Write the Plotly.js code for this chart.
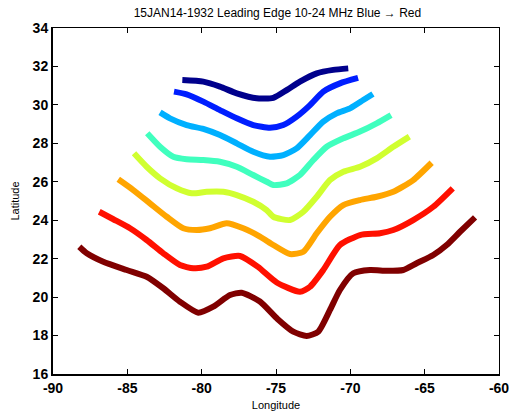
<!DOCTYPE html>
<html>
<head>
<meta charset="utf-8">
<script src="https://cdn.plot.ly/plotly-3.0.1.min.js"></script>
<style>html,body{margin:0;padding:0;background:#fff;}#chart{width:509px;height:416px;}</style>
</head>
<body>
<div id="chart"></div>
<script>
// Leading edge contours, 10-24 MHz (Blue -> Red)
const lon1 = [-81.30,-79.89,-78.77,-77.64,-76.30,-75.18,-74.28,-73.39,-72.26,-71.15,-70.14];
const lat1 = [31.29,31.21,30.95,30.60,30.34,30.37,30.77,31.21,31.64,31.82,31.90];

const lon2 = [-81.86,-81.01,-79.89,-78.77,-77.64,-76.53,-75.40,-74.51,-73.61,-72.71,-71.82,-70.70,-69.48];
const lat2 = [30.69,30.55,30.17,29.73,29.30,28.95,28.81,28.95,29.39,29.99,30.69,31.12,31.40];

const lon3 = [-82.80,-82.13,-81.01,-79.89,-78.77,-77.64,-76.53,-75.40,-74.51,-73.61,-72.71,-71.82,-70.92,-70.02,-69.13,-68.48];
const lat3 = [29.61,29.30,28.95,28.75,28.43,28.00,27.56,27.30,27.39,27.74,28.43,29.13,29.56,29.82,30.25,30.57];

const lon4 = [-83.66,-82.80,-81.91,-81.01,-79.89,-78.77,-77.64,-76.53,-75.63,-75.18,-74.28,-73.39,-72.49,-71.59,-70.47,-69.35,-68.23,-67.26];
const lat4 = [28.52,27.82,27.30,27.17,27.13,27.04,26.78,26.35,26.00,25.83,25.92,26.35,27.13,27.82,28.26,28.61,29.04,29.47];

const lon5 = [-84.55,-83.70,-82.80,-81.68,-80.67,-79.66,-78.54,-77.64,-76.53,-75.63,-75.18,-74.06,-73.16,-72.26,-71.37,-70.47,-69.35,-68.23,-67.11,-66.03];
const lat5 = [27.48,26.78,26.18,25.66,25.40,25.48,25.48,25.31,24.96,24.53,24.18,24.01,24.44,25.22,26.09,26.52,26.78,27.22,27.82,28.35];

const lon6 = [-85.61,-84.60,-83.48,-82.35,-81.24,-80.33,-79.44,-78.32,-77.20,-76.08,-75.18,-74.06,-73.16,-72.26,-71.37,-70.47,-69.35,-68.23,-67.11,-65.77,-64.53];
const lat6 = [26.13,25.57,24.88,24.18,23.58,23.49,23.58,23.84,23.58,23.15,22.71,22.24,22.36,23.32,24.18,24.79,25.05,25.22,25.48,26.09,26.99];

const lon7 = [-86.89,-85.94,-84.82,-83.70,-82.58,-81.46,-80.56,-79.66,-78.54,-77.42,-76.21,-74.95,-73.39,-72.71,-71.82,-70.70,-69.35,-68.00,-67.11,-65.77,-64.42,-63.11];
const lat7 = [24.44,24.05,23.58,22.97,22.28,21.67,21.50,21.58,22.02,22.14,21.57,20.76,20.28,20.54,21.41,22.71,23.23,23.32,23.49,24.01,24.70,25.66];

const lon8 = [-88.23,-87.73,-86.62,-85.04,-83.70,-82.58,-81.46,-80.23,-79.22,-78.09,-77.31,-76.08,-74.90,-73.84,-72.94,-72.16,-71.37,-70.70,-69.80,-68.68,-67.55,-66.44,-65.54,-64.42,-63.52,-62.62,-61.61];
const lat8 = [22.62,22.28,21.84,21.41,21.06,20.46,19.76,19.19,19.50,20.11,20.23,19.77,18.86,18.20,17.98,18.20,19.33,20.37,21.24,21.41,21.37,21.41,21.76,22.19,22.71,23.40,24.15];

const lons = [lon1,lon2,lon3,lon4,lon5,lon6,lon7,lon8];
const lats = [lat1,lat2,lat3,lat4,lat5,lat6,lat7,lat8];
const colors = ['rgb(0,0,140)','rgb(0,30,255)','rgb(0,176,255)','rgb(64,255,190)','rgb(208,255,48)','rgb(255,165,0)','rgb(255,16,0)','rgb(128,0,0)'];

const xTicks = [-90,-85,-80,-75,-70,-65,-60];
const yTicks = [16,18,20,22,24,26,28,30,32,34];

const traces = lons.map((x,i) => ({
  x: x, y: lats[i], type: 'scatter', mode: 'lines',
  line: {color: colors[i], width: 6, shape: 'spline', smoothing: 0.6}, hoverinfo: 'skip', showlegend: false
}));
// invisible trace to activate mirror axes
traces.push({x:[-90], y:[16], xaxis:'x2', yaxis:'y2', mode:'markers', marker:{opacity:0}, showlegend:false, hoverinfo:'skip'});

const font = 'Liberation Sans, Arial, sans-serif';
const layout = {
  width: 509, height: 416,
  margin: {l: 53, r: 10, t: 28, b: 42},
  paper_bgcolor: '#fff', plot_bgcolor: '#fff',
  font: {family: font, color: '#000'},
  title: {text: '15JAN14-1932 Leading Edge 10-24 MHz Blue \u2192 Red', font: {family: font, size: 12, color:'#000'},
          x: 0.545, xanchor: 'center', xref: 'container', y: 0.969, yanchor: 'middle', yref: 'container'},
  xaxis: {range: [-90, -60], tickvals: xTicks, ticktext: xTicks.map(String), ticks: 'inside', ticklen: 5,
          tickcolor: '#000', showline: true, linecolor: '#000', linewidth: 2, showgrid: false, zeroline: false,
          ticklabeloverflow: 'allow',
          tickfont: {family: font, size: 14, color: '#000', weight: 'bold'},
          title: {text: 'Longitude', font: {family: font, size: 11, color: '#000'}, standoff: 7}},
  yaxis: {range: [16, 34], tickvals: yTicks, ticktext: yTicks.map(String), ticks: 'inside', ticklen: 5,
          tickcolor: '#000', showline: true, linecolor: '#000', linewidth: 2, showgrid: false, zeroline: false,
          tickfont: {family: font, size: 14, color: '#000', weight: 'bold'},
          title: {text: 'Latitude', font: {family: font, size: 11, color: '#000'}, standoff: 11}},
  xaxis2: {range: [-90, -60], overlaying: 'x', side: 'top', tickvals: xTicks, ticks: 'inside', ticklen: 5,
           tickcolor: '#000', showline: true, linecolor: '#000', linewidth: 1, showticklabels: false,
           showgrid: false, zeroline: false},
  yaxis2: {range: [16, 34], overlaying: 'y', side: 'right', tickvals: yTicks, ticks: 'inside', ticklen: 5,
           tickcolor: '#000', showline: true, linecolor: '#000', linewidth: 1, showticklabels: false,
           showgrid: false, zeroline: false}
};

Plotly.newPlot('chart', traces, layout, {displayModeBar: false, staticPlot: true});
</script>
</body>
</html>
